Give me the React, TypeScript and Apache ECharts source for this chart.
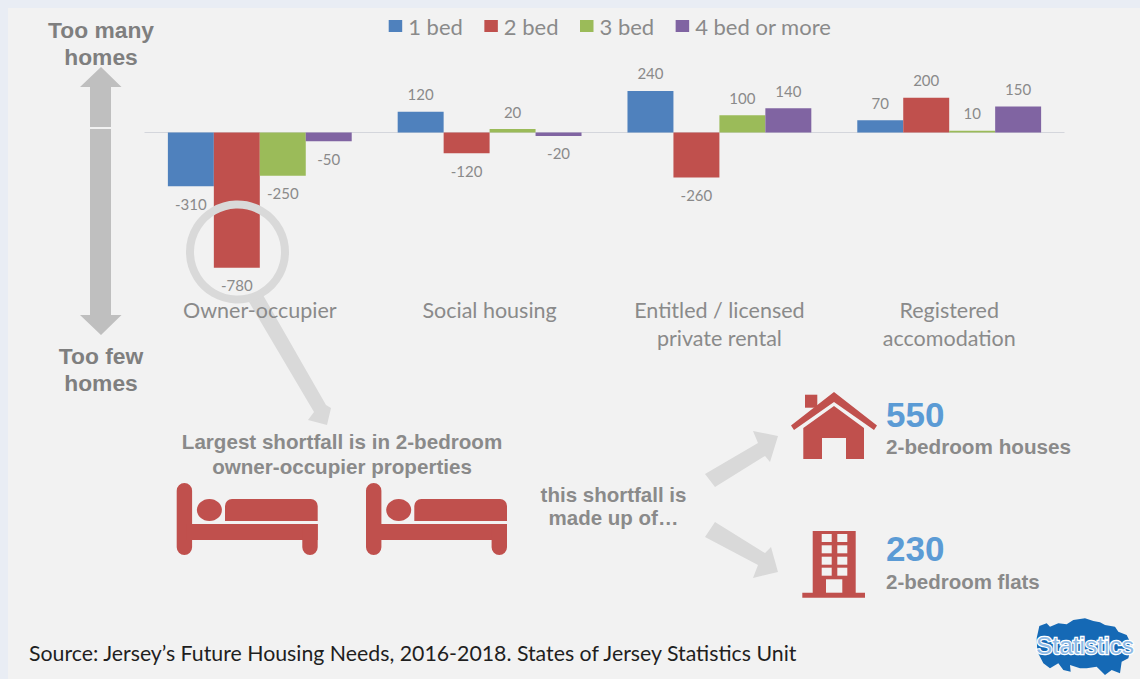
import React, { useEffect, useRef } from "react";
import * as echarts from "echarts";

const categories = ["Owner-occupier", "Social housing", "Entitled / licensed\nprivate rental", "Registered\naccomodation"];
const bed1 = [-310, 120, 240, 70];
const bed2 = [-780, -120, -260, 200];
const bed3 = [-250, 20, 100, 10];
const bed4 = [-50, -20, 140, 150];
const seriesNames = ["1 bed", "2 bed", "3 bed", "4 bed or more"];
const seriesColors = ["#4f81bd", "#c0504d", "#9bbb59", "#8064a2"];
const seriesValues = [bed1, bed2, bed3, bed4];

const RED = "#c0504d";
const BG = "#f2f2f2";
const LIGHT = "#d9d9d9";
const MID = "#bfbfbf";
const TXT = "#8a8a8a";
const SANS = "Liberation Sans";

const boldText = (x: number, y: number, text: string, size: number, fill: string, align = "center") => ({
  type: "text", x, y, z: 20,
  style: { text, fill, font: `bold ${size}px "${SANS}"`, align, verticalAlign: "middle" },
});

const poly = (points: number[][], fill: string, z = 20) => ({
  type: "polygon", z, shape: { points }, style: { fill },
});

const bed = (x: number, y: number) => ({
  type: "group", x, y, z: 20,
  children: [
    { type: "rect", z: 20, shape: { x: 0, y: 0, width: 15.4, height: 72, r: 7.7 }, style: { fill: RED } },
    { type: "rect", z: 20, shape: { x: 10, y: 41, width: 131, height: 16 }, style: { fill: RED } },
    { type: "rect", z: 20, shape: { x: 125.6, y: 41, width: 15.4, height: 31, r: [0, 0, 7.7, 7.7] }, style: { fill: RED } },
    { type: "ellipse", z: 20, shape: { cx: 32.7, cy: 27, rx: 12.5, ry: 11 }, style: { fill: RED } },
    { type: "rect", z: 20, shape: { x: 48.3, y: 16, width: 92.7, height: 22, r: [7, 7, 0, 0] }, style: { fill: RED } },
  ],
});

const flatWindows = [534, 545.3, 556.7, 567.7].flatMap((wy) =>
  [821.7, 837.3].map((wx) => ({
    type: "rect", z: 21, shape: { x: wx, y: wy, width: 10, height: 8 }, style: { fill: BG },
  }))
);

const logoOutline = [
  [28, 33], [50, 25], [60, 35], [85, 25], [110, 28], [130, 15], [165, 10], [190, 18], [210, 22], [225, 30], [255, 35],
  [265, 50], [290, 60], [305, 90], [295, 130], [275, 140], [270, 175], [245, 165], [225, 180], [200, 155], [170, 160],
  [150, 160], [120, 150], [122, 170], [100, 165], [85, 145], [60, 160], [40, 145], [30, 125], [22, 110], [20, 70],
].map(([x, y]) => [1030 + x / 3, 615 + y / 3]);

const graphics: any[] = [
  // double arrow
  poly([[101, 67], [121.5, 87], [111, 87], [111, 315], [121.5, 315], [101, 335], [80, 315], [90, 315], [90, 87], [80, 87]], MID),
  { type: "line", z: 21, shape: { x1: 90, y1: 128, x2: 111, y2: 128 }, style: { stroke: BG, lineWidth: 2 } },
  boldText(101, 30, "Too many", 22.8, "#7f7f7f"),
  boldText(101, 57, "homes", 22.8, "#7f7f7f"),
  boldText(101, 356, "Too few", 22.8, "#7f7f7f"),
  boldText(101, 383, "homes", 22.8, "#7f7f7f"),
  // magnifier
  { type: "circle", z: 30, shape: { cx: 237.5, cy: 252, r: 47.5 }, style: { fill: "transparent", stroke: LIGHT, lineWidth: 8 } },
  poly([[249, 302], [263, 295], [326, 405], [331, 408], [327, 425], [308, 420], [314, 412]], LIGHT, 5),
  boldText(342, 441.5, "Largest shortfall is in 2-bedroom", 20.6, TXT),
  boldText(342, 466.5, "owner-occupier properties", 20.6, TXT),
  bed(176.7, 483),
  bed(366, 483),
  boldText(613.5, 494.5, "this shortfall is", 20.5, TXT),
  boldText(613.5, 517.5, "made up of…", 20.5, TXT),
  // flow arrows
  poly([[705, 474], [758, 443], [753, 431], [778, 436], [770, 462], [765, 456], [715, 487]], LIGHT),
  poly([[715, 522], [765, 553], [771, 547], [778, 572], [753, 578], [758, 565], [705, 537]], LIGHT),
  // house
  poly([[834, 392], [877, 425.5], [874, 430], [834, 402], [794, 430], [791, 425.5]], RED),
  { type: "rect", z: 20, shape: { x: 805, y: 394.7, width: 12.3, height: 13 }, style: { fill: RED } },
  poly([[834, 406], [864, 428], [864, 459], [846, 459], [846, 438], [822, 438], [822, 459], [803.3, 459], [803.3, 428]], RED),
  boldText(886, 414.5, "550", 35, "#5b9bd5", "left"),
  boldText(886, 446, "2-bedroom houses", 20.7, TXT, "left"),
  // flats
  { type: "rect", z: 20, shape: { x: 812.7, y: 531, width: 43, height: 62 }, style: { fill: RED } },
  { type: "rect", z: 20, shape: { x: 802.3, y: 592.7, width: 62.7, height: 5 }, style: { fill: RED } },
  ...flatWindows,
  { type: "rect", z: 21, shape: { x: 826, y: 579.3, width: 16.3, height: 13.4 }, style: { fill: BG } },
  boldText(886, 548.5, "230", 35, "#5b9bd5", "left"),
  boldText(886, 581, "2-bedroom flats", 20.5, TXT, "left"),
  // source
  {
    type: "text", x: 29, y: 653, z: 20,
    style: {
      text: "Source: Jersey’s Future Housing Needs, 2016-2018. States of Jersey Statistics Unit",
      fill: "#1f1f1f", font: '21.3px "Lato"', align: "left", verticalAlign: "middle",
    },
  },
  // logo
  poly(logoOutline, "#1569b5"),
  {
    type: "text", x: 1085, y: 645, z: 21,
    style: { text: "Statistics", fill: "#8fbbe6", stroke: "#ffffff", lineWidth: 2.5, font: '24.5px "Liberation Sans"', align: "center", verticalAlign: "middle" },
  },
];

const option: any = {
  animation: false,
  backgroundColor: "transparent",
  grid: { left: 144.9, width: 919.2, top: 80.5, height: 190.6, containLabel: false },
  legend: {
    show: true, left: 388.7, top: 15, padding: 0, itemWidth: 13.5, itemHeight: 12, itemGap: 21.5, icon: "rect",
    data: seriesNames,
    textStyle: { color: TXT, fontFamily: "Lato", fontSize: 22, padding: [0, 0, 0, 1] },
  },
  xAxis: [
    {
      type: "category", data: categories, position: "bottom",
      axisLine: { show: true, onZero: true, lineStyle: { color: "#d4d6dc", width: 1 } },
      axisTick: { show: false }, axisLabel: { show: false }, splitLine: { show: false },
    },
    {
      type: "category", data: categories, position: "bottom", z: 50,
      axisLine: { show: false, onZero: false }, axisTick: { show: false }, splitLine: { show: false },
      axisLabel: { show: true, color: TXT, fontFamily: "Lato", fontSize: 21.5, lineHeight: 28, margin: 25, interval: 0 },
    },
  ],
  yAxis: { type: "value", min: -800, max: 300, show: false, splitLine: { show: false } },
  series: seriesNames.map((name, i) => ({
    name, type: "bar", xAxisIndex: 0, barGap: "0%", barCategoryGap: "20%",
    itemStyle: { color: seriesColors[i] }, z: 2,
    data: seriesValues[i].map((value) => ({
      value,
      label: { show: true, position: value < 0 ? "bottom" : "top", distance: 10, color: TXT, fontFamily: "Lato", fontSize: 15 },
    })),
  })),
  graphic: { elements: graphics },
};

export default function App() {
  const ref = useRef<HTMLDivElement>(null);
  useEffect(() => {
    const chart = echarts.init(ref.current!, undefined, { renderer: "svg" });
    chart.setOption(option);
    return () => chart.dispose();
  }, []);
  return (
    <div style={{ position: "absolute", left: 0, top: 0, width: 1140, height: 679, background: "#e9edf4", overflow: "hidden" }}>
      <div style={{ position: "absolute", left: 8, top: 8, width: 1132, height: 671, background: BG }} />
      <div ref={ref} style={{ position: "absolute", left: 0, top: 0, width: 1140, height: 679 }} />
    </div>
  );
}
